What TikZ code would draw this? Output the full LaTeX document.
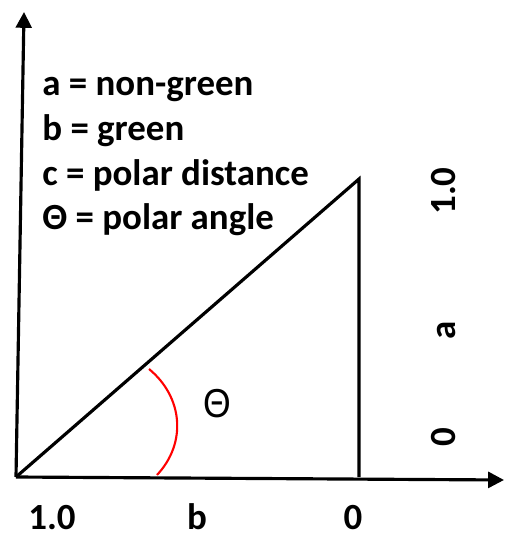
\documentclass[tikz,border=0pt]{standalone}
\usepackage{fontspec}
\setmainfont{Carlito}
\newfontfamily\arialfont{Liberation Sans}
\usetikzlibrary{arrows.meta,positioning}

\tikzset{
    axis/.style={line width=1.8pt, -{Triangle[length=9pt,width=9pt]}},
    side/.style={line width=1.8pt},
    legend/.style={anchor=base west, inner sep=0pt, font=\fontsize{21}{25}\selectfont\bfseries},
    ticklabel/.style={anchor=base, inner sep=0pt, font=\fontsize{21}{25}\selectfont\bfseries},
}

\begin{document}
\begin{tikzpicture}[x=0.02cm, y=-0.02cm]

    \useasboundingbox (0,0) rectangle (504,537);

    % axes
    \coordinate (origin) at (16,477);
    \coordinate (ytip) at (24,12);
    \coordinate (xtip) at (504,480);
    \draw[axis] (origin) -- (ytip);
    \draw[axis] (origin) -- (xtip);

    % triangle
    \coordinate (apex) at (359,179);
    \coordinate (foot) at (359,477);
    \draw[side] (origin) -- (apex) -- (foot);

    % angle
    \coordinate (arcstart) at (157,475);
    \coordinate (arcend) at (149,369);
    \draw[red, line width=1.2pt] (arcstart) .. controls (187,443) and (183,397) .. (arcend);
    \node[anchor=base, inner sep=0pt, xscale=0.88, font=\arialfont\fontsize{23}{27}\selectfont] (theta) at (217,417) {Θ};

    % legend
    \node[legend] (leg a) at (42,95) {a = non-green};
    \node[legend] (leg b) at (42,140) {b = green};
    \node[legend] (leg c) at (42,185) {c = polar distance};
    \node[legend] (leg t) at (42,229) {Θ = polar angle};

    % labels along b
    \node[ticklabel] (b one) at (52,529) {1.0};
    \node[ticklabel] (b name) at (197,529) {b};
    \node[ticklabel] (b zero) at (353,529) {0};

    % labels along a
    \node[ticklabel, rotate=90] (a one) at (455,191) {1.0};
    \node[ticklabel, rotate=90] (a name) at (455,330) {a};
    \node[ticklabel, rotate=90] (a zero) at (455,437) {0};

\end{tikzpicture}
\end{document}
